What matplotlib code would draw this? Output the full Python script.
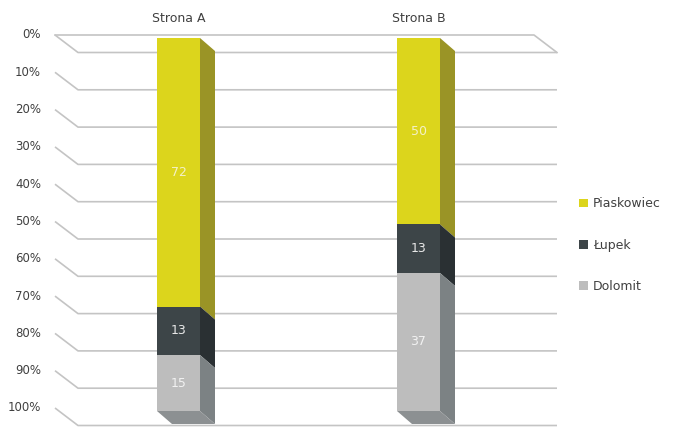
import matplotlib.pyplot as plt
from matplotlib.patches import Polygon, Patch

# data
strony = ['Strona A', 'Strona B']
skaly = ['Piaskowiec', 'Łupek', 'Dolomit']
piaskowiec = [72, 50]
lupek = [13, 13]
dolomit = [15, 37]
ticks = list(range(0, 101, 10))

front = {'Piaskowiec': '#dcd51c', 'Łupek': '#3d4548', 'Dolomit': '#bdbdbd'}
side = {'Piaskowiec': '#9a9426', 'Łupek': '#2a3033', 'Dolomit': '#7c8284'}
txt = {'Piaskowiec': '#f4f1c8', 'Łupek': '#e8e8e8', 'Dolomit': '#f2f2f2'}

W, H = 679, 443
fig = plt.figure(figsize=(W / 100, H / 100), dpi=100)
ax = fig.add_axes([0, 0, 1, 1])

# scale: 1 category = 240 px, 1 % = 3.73 px, 0% front at px 38
PX_X, PX_Y = 240.0, 3.73
X0, Y0 = 178.5, 38.0
ax.set_xlim(-X0 / PX_X, (W - X0) / PX_X)
ax.set_ylim((H - Y0) / PX_Y, -Y0 / PX_Y)
ax.axis('off')

def dx(p):
    return p / PX_X

def dy(p):
    return p / PX_Y

grid_c = '#c4c4c4'
xl = dx(55 - X0)
xr = dx(557 - X0)
wd_x, wd_y = dx(23), dy(17.5)
g_off = dy(-3)

# gridlines (side wall diagonal + back wall)
for v in ticks:
    y = v + g_off
    ax.plot([xl, xl + wd_x, xr], [y, y + wd_y, y + wd_y], color=grid_c, lw=1.2,
            solid_capstyle='butt', zorder=1)
    ax.text(dx(41 - X0), y, f'{v}%', ha='right', va='center', fontsize=8.5,
            color='#404040')
# floor front edge
ax.plot([xl, xr - wd_x, xr], [g_off, g_off, g_off + wd_y], color=grid_c, lw=1.2, zorder=1)

bw = dx(43)
bd_x, bd_y = dx(15), dy(13)
series = {'Piaskowiec': piaskowiec, 'Łupek': lupek, 'Dolomit': dolomit}
for i, name in enumerate(strony):
    start = 0
    l, r = i - bw / 2, i + bw / 2
    for s in skaly:
        val = series[s][i]
        end = start + val
        ax.add_patch(Polygon([(l, start), (r, start), (r, end), (l, end)],
                             closed=True, fc=front[s], ec='none', zorder=3))
        ax.add_patch(Polygon([(r, start), (r + bd_x, start + bd_y),
                              (r + bd_x, end + bd_y), (r, end)],
                             closed=True, fc=side[s], ec='none', zorder=3))
        ax.text(i, (start + end) / 2, str(val), ha='center', va='center',
                fontsize=9, color=txt[s], zorder=4)
        start = end
    # bottom face
    ax.add_patch(Polygon([(l, start), (r, start), (r + bd_x, start + bd_y),
                          (l + bd_x, start + bd_y)],
                         closed=True, fc='#8c9092', ec='none', zorder=3))
    ax.text(i, dy(18 - Y0), name, ha='center', va='center', fontsize=9,
            color='#404040')

handles = [Patch(fc=front[s], ec='none') for s in skaly]
fig.legend(handles, skaly, loc='center left', bbox_to_anchor=(568 / W, 1 - 245 / H),
           frameon=False, fontsize=9, labelspacing=2.25, handlelength=0.7,
           handleheight=0.7, handletextpad=0.4, labelcolor='#404040')

fig.savefig('out.png', dpi=100, facecolor='white')
